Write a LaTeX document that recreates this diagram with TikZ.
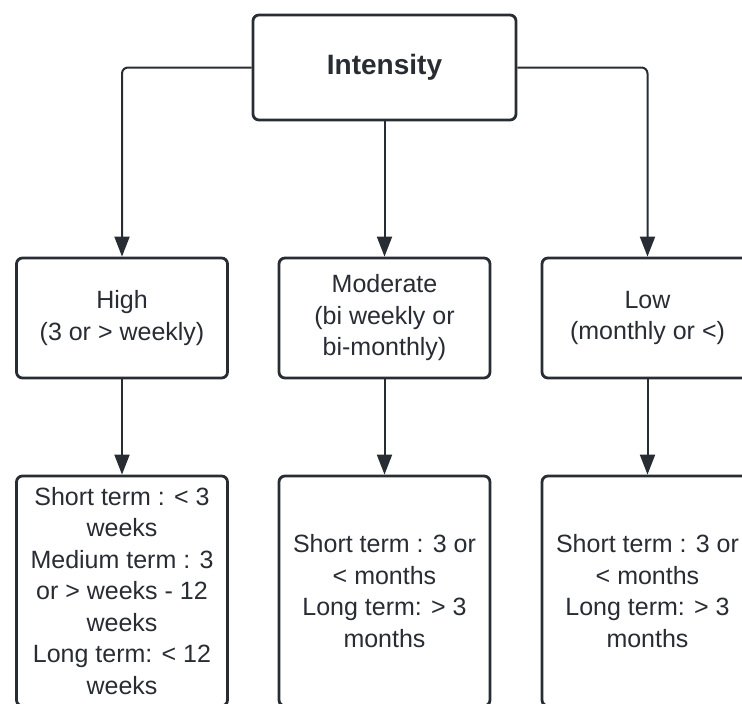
\documentclass[tikz,border=0pt]{standalone}
\usepackage{fontspec}
\setmainfont{Liberation Sans}
\usetikzlibrary{arrows.meta}
\definecolor{ink}{HTML}{282C33}
\begin{document}
\begin{tikzpicture}[x=1pt,y=-1pt,
  box/.style={draw=ink, line width=2.8pt, rounded corners=6pt, fill=white,
    align=center, text=ink, inner sep=0pt, minimum width=211pt,
    font=\fontsize{25}{31.5}\selectfont},
  arr/.style={draw=ink, line width=2pt, rounded corners=6pt,
    -{Triangle[width=15pt,length=20pt]}}]
\useasboundingbox (0,0) rectangle (742,704);
\clip (0,0) rectangle (742,704);
\node[box, minimum width=263pt, minimum height=105pt, font=\fontsize{28}{34}\selectfont\bfseries] (top) at (384.5,67.5) {Intensity};
\node[box, minimum height=120pt] (high) at (122,318) {High\\(3 or > weekly)};
\node[box, minimum height=120pt] (mod) at (384.5,318) {Moderate\\(bi weekly or\\bi-monthly)};
\node[box, minimum height=120pt] (low) at (647.5,318) {Low\\(monthly or <)};
\node[box, minimum height=230pt] (hterm) at (122,591) {Short term : < 3\\weeks\\Medium term : 3\\or > weeks - 12\\weeks\\Long term: < 12\\weeks};
\node[box, minimum height=230pt] (mterm) at (384.5,591) {Short term : 3 or\\< months\\Long term: > 3\\months};
\node[box, minimum height=230pt] (lterm) at (647.5,591) {Short term : 3 or\\< months\\Long term: > 3\\months};
\draw[arr] (top.west) -| (high.north);
\draw[arr] (top.east) -| (low.north);
\draw[arr] (top.south) -- (mod.north);
\draw[arr] (high.south) -- (hterm.north);
\draw[arr] (mod.south) -- (mterm.north);
\draw[arr] (low.south) -- (lterm.north);
\end{tikzpicture}
\end{document}
